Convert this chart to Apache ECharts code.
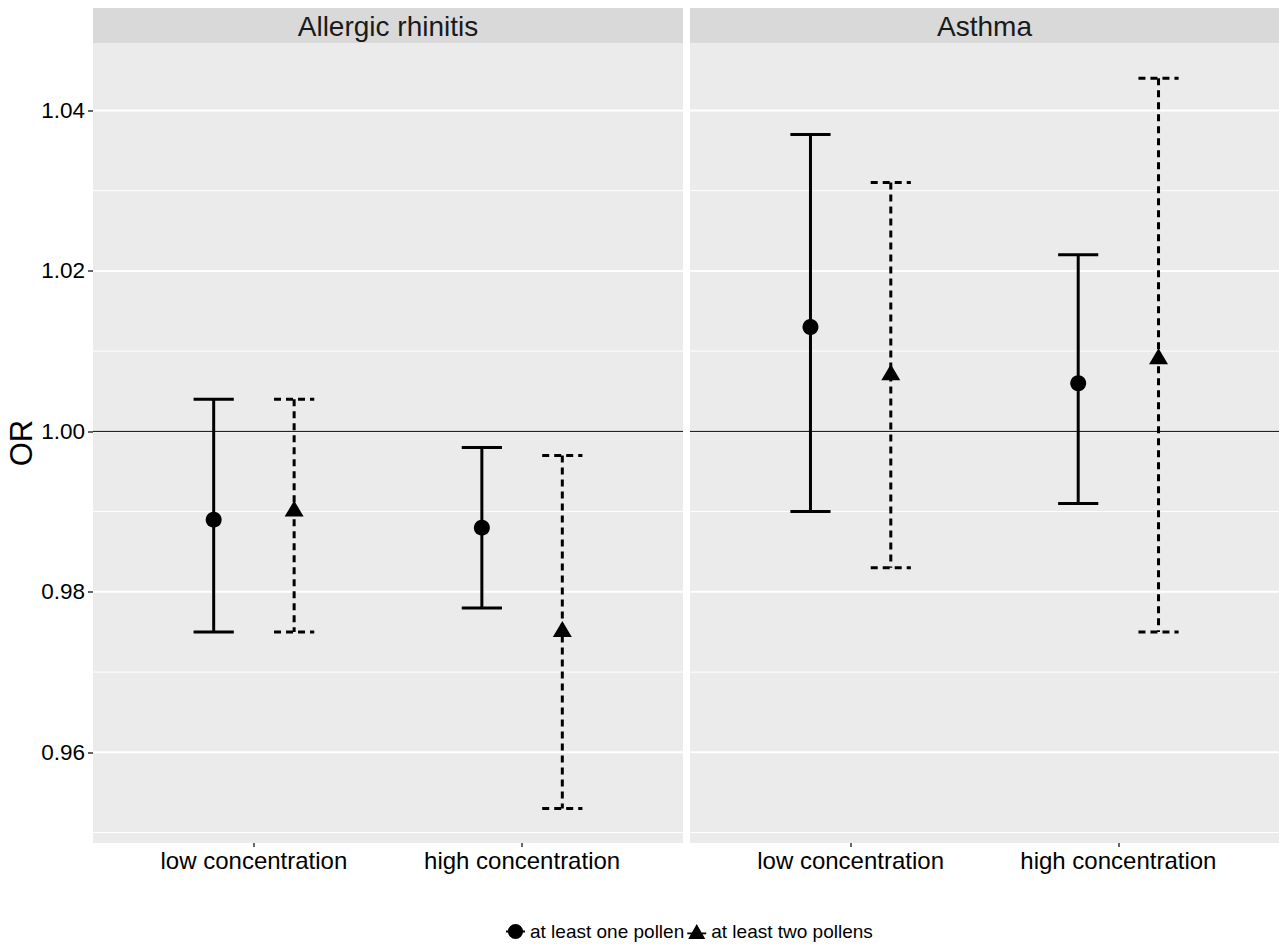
<!DOCTYPE html>
<html>
<head>
<meta charset="utf-8">
<script src="https://cdn.jsdelivr.net/npm/echarts@6/dist/echarts.min.js"></script>
<style>
  html, body { margin: 0; padding: 0; background: #fff; }
  #chart { width: 1279px; height: 944px; }
</style>
</head>
<body>
<div id="chart"></div>
<script>
// ---- data ----
const panels = ['Allergic rhinitis', 'Asthma'];
const categories = ['low concentration', 'high concentration'];
const groups = ['at least one pollen', 'at least two pollens'];
// [panel][category]
const onePollenOR   = [[0.989, 0.988], [1.013, 1.006]];
const onePollenLow  = [[0.975, 0.978], [0.990, 0.991]];
const onePollenHigh = [[1.004, 0.998], [1.037, 1.022]];
const twoPollenOR   = [[0.990, 0.975], [1.007, 1.009]];
const twoPollenLow  = [[0.975, 0.953], [0.983, 0.975]];
const twoPollenHigh = [[1.004, 0.997], [1.031, 1.044]];
const yTickValues  = [0.96, 0.98, 1.00, 1.02, 1.04];
const yMinorValues = [0.95, 0.97, 0.99, 1.01, 1.03];
const referenceOR = 1.00;

// ---- layout / style ----
const FONT = "'Liberation Sans', Arial, sans-serif";
const Y_MIN = 0.9487, Y_MAX = 1.0484;
const X_MIN = 0.4, X_MAX = 2.6;
const DODGE = 0.15, CAP_HALF = 0.075;
const gridBoxes = [
  { left: 93, top: 43, width: 590, height: 800 },
  { left: 690, top: 43, width: 589, height: 800 }
];
const STRIP_TOP = 8, STRIP_H = 35;

const est = [onePollenOR, twoPollenOR];
const lows = [onePollenLow, twoPollenLow];
const highs = [onePollenHigh, twoPollenHigh];

const chart = echarts.init(document.getElementById('chart'), null, { renderer: 'svg' });

const grids = gridBoxes.map(b => ({
  left: b.left, top: b.top, width: b.width, height: b.height,
  show: true, backgroundColor: '#ebebeb', borderWidth: 0, containLabel: false
}));

const xAxes = panels.map((p, i) => ({
  type: 'value', gridIndex: i, min: X_MIN, max: X_MAX,
  axisLine: { show: false },
  splitLine: { show: false },
  axisTick: { show: true, customValues: [1, 2], length: 4, lineStyle: { color: '#333', width: 1.5 } },
  axisLabel: {
    customValues: [1, 2],
    formatter: v => categories[Math.round(v) - 1] || '',
    fontSize: 24, color: '#000', fontFamily: FONT, margin: 5
  }
}));

const yAxes = panels.map((p, i) => ({
  type: 'value', gridIndex: i, min: Y_MIN, max: Y_MAX,
  axisLine: { show: false },
  splitLine: { show: false },
  axisTick: { show: i === 0, customValues: yTickValues, length: 5, lineStyle: { color: '#333', width: 1.5 } },
  axisLabel: {
    show: i === 0,
    customValues: yTickValues,
    formatter: v => v.toFixed(2),
    fontSize: 22.5, color: '#000', fontFamily: FONT, margin: 8
  },
  name: i === 0 ? 'OR' : '',
  nameLocation: 'middle', nameRotate: 90, nameGap: 54,
  nameTextStyle: { fontSize: 31, color: '#000', fontFamily: FONT }
}));

const series = [];
panels.forEach((p, pi) => {
  // gridlines
  series.push({
    type: 'custom', xAxisIndex: pi, yAxisIndex: pi, silent: true, z: 1, clip: false,
    data: yTickValues.map(v => [1, v, 1]).concat(yMinorValues.map(v => [1, v, 0])),
    renderItem: (params, api) => {
      const cs = params.coordSys;
      const y = api.coord([1, api.value(1)])[1];
      const major = api.value(2) === 1;
      return { type: 'line', shape: { x1: cs.x, y1: y, x2: cs.x + cs.width, y2: y },
        style: { stroke: '#ffffff', lineWidth: major ? 2 : 1 } };
    }
  });
  // reference line
  series.push({
    type: 'custom', xAxisIndex: pi, yAxisIndex: pi, silent: true, z: 2, clip: false,
    data: [[1, referenceOR]],
    renderItem: (params, api) => {
      const cs = params.coordSys;
      const y = api.coord([1, api.value(1)])[1];
      return { type: 'line', shape: { x1: cs.x, y1: y, x2: cs.x + cs.width, y2: y },
        style: { stroke: '#000', lineWidth: 1 } };
    }
  });
  groups.forEach((g, gi) => {
    const off = gi === 0 ? -DODGE : DODGE;
    const dashed = gi === 1;
    series.push({
      type: 'custom', xAxisIndex: pi, yAxisIndex: pi, silent: true, z: 3,
      encode: { x: 0, y: [1, 2] },
      data: categories.map((c, ci) => [ci + 1 + off, lows[gi][pi][ci], highs[gi][pi][ci]]),
      renderItem: (params, api) => {
        const x = api.value(0), lo = api.value(1), hi = api.value(2);
        const tl = api.coord([x - CAP_HALF, hi]), tr = api.coord([x + CAP_HALF, hi]);
        const bl = api.coord([x - CAP_HALF, lo]), br = api.coord([x + CAP_HALF, lo]);
        const t = api.coord([x, hi]), b = api.coord([x, lo]);
        const style = { stroke: '#000', lineWidth: 3, lineDash: dashed ? [7, 5] : null, fill: null };
        return { type: 'group', children: [
          { type: 'line', shape: { x1: tl[0], y1: tl[1], x2: tr[0], y2: tr[1] }, style },
          { type: 'line', shape: { x1: t[0], y1: t[1], x2: b[0], y2: b[1] }, style },
          { type: 'line', shape: { x1: bl[0], y1: bl[1], x2: br[0], y2: br[1] }, style }
        ] };
      }
    });
    series.push({
      type: 'scatter', name: g, xAxisIndex: pi, yAxisIndex: pi, z: 4,
      symbol: gi === 0 ? 'circle' : 'triangle',
      symbolSize: gi === 0 ? 16 : [19, 16],
      symbolOffset: gi === 0 ? [0, 0] : [0, -3],
      itemStyle: { color: '#000', opacity: 1 },
      emphasis: { disabled: true },
      data: categories.map((c, ci) => [ci + 1 + off, est[gi][pi][ci]])
    });
  });
});

const graphics = [];
panels.forEach((p, pi) => {
  const b = gridBoxes[pi];
  graphics.push({ type: 'rect', shape: { x: b.left, y: STRIP_TOP, width: b.width, height: STRIP_H },
    style: { fill: '#d9d9d9' }, silent: true });
  graphics.push({ type: 'text', x: b.left + b.width / 2, y: STRIP_TOP + STRIP_H / 2 + 1,
    style: { text: p, fontSize: 28, fontFamily: FONT, fill: '#1a1a1a', textAlign: 'center', textVerticalAlign: 'middle' },
    silent: true });
});

const circleIcon = 'path://M0,7h20v2h-20z M18,8A8,8 0 1 1 2,8A8,8 0 1 1 18,8Z';
const triIcon = 'path://M0,9h20v2h-20z M10,0L19,16L1,16Z';

chart.setOption({
  animation: false,
  backgroundColor: '#ffffff',
  grid: grids,
  xAxis: xAxes,
  yAxis: yAxes,
  graphic: graphics,
  legend: {
    top: 922, left: 506, padding: 0,
    itemWidth: 19, itemHeight: 16, itemGap: 3,
    selectedMode: false,
    textStyle: { fontSize: 19, color: '#000', fontFamily: FONT },
    data: [{ name: groups[0], icon: circleIcon }, { name: groups[1], icon: triIcon }]
  },
  series
});
</script>
</body>
</html>
